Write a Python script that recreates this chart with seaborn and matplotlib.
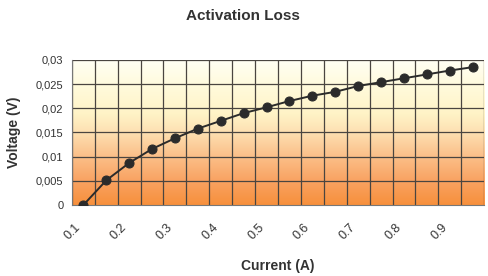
import matplotlib
matplotlib.use("Agg")
import matplotlib.pyplot as plt
import matplotlib.transforms as mtransforms
from matplotlib.colors import LinearSegmentedColormap
from matplotlib.ticker import FuncFormatter
import numpy as np
import pandas as pd
import seaborn as sns

current = [0.10, 0.15, 0.20, 0.25, 0.30, 0.35, 0.40, 0.45, 0.50,
           0.55, 0.60, 0.65, 0.70, 0.75, 0.80, 0.85, 0.90, 0.95]
voltage = [0.0, 0.0051, 0.0087, 0.0116, 0.0138, 0.0158, 0.0174, 0.0190, 0.0202,
           0.0215, 0.0226, 0.0234, 0.0246, 0.0254, 0.0262, 0.0270, 0.0278, 0.0285]
tick_labels = ["0.1", "0.2", "0.3", "0.4", "0.5", "0.6", "0.7", "0.8", "0.9"]

df = pd.DataFrame({"current": current, "voltage": voltage})

sns.set_style("white")
plt.rcParams["font.family"] = ["Liberation Sans", "DejaVu Sans"]

fig = plt.figure(figsize=(4.89, 2.76), dpi=100)
ax = fig.add_axes([0.147, 0.257, 0.843, 0.526])

xmin, xmax = 0.075, 0.975
ymin, ymax = 0.0, 0.03

# orange-to-cream gradient background
cmap = LinearSegmentedColormap.from_list(
    "bg",
    [(0.0, "#f7903c"), (0.17, "#f9a363"), (0.33, "#fbbf88"),
     (0.5, "#fde0b2"), (0.62, "#fff3c6"), (0.8, "#fffada"), (1.0, "#fffff4")],
)
grad = np.linspace(0, 1, 256).reshape(-1, 1)
ax.imshow(grad, aspect="auto", cmap=cmap, origin="lower",
          extent=[xmin, xmax, ymin, ymax], zorder=0)

sns.lineplot(data=df, x="current", y="voltage", ax=ax, color="#2b2b2b",
             linewidth=1.4, marker="o", markersize=6.5,
             markeredgecolor="#2b2b2b", markerfacecolor="#2b2b2b", zorder=3)

ax.set_xlim(xmin, xmax)
ax.set_ylim(ymin, ymax)

# gridlines at category boundaries
bounds = [xmin + 0.05 * k for k in range(19)]
ax.set_xticks(bounds, minor=True)
ax.set_xticks([float(t) for t in tick_labels])
ax.set_xticklabels(tick_labels, rotation=45, ha="right", va="top",
                   fontsize=9, color="#333333")
offset = mtransforms.ScaledTranslation(-6 / 100, 0, fig.dpi_scale_trans)
for lbl in ax.get_xticklabels():
    lbl.set_transform(lbl.get_transform() + offset)
ax.tick_params(axis="x", which="major", length=0, pad=12)
ax.tick_params(axis="x", which="minor", length=4, color="#555555", direction="out")

ax.set_yticks(np.arange(0, 0.0301, 0.005))
ax.yaxis.set_major_formatter(FuncFormatter(
    lambda v, p: "0" if abs(v) < 1e-9 else f"{v:g}".replace(".", ",")))
ax.tick_params(axis="y", length=4, color="#555555", direction="out",
               labelsize=8, labelcolor="#333333", pad=2)

ax.grid(False)
for b in bounds:
    ax.axvline(b, color="#4a4540", linewidth=0.9, zorder=1)
for v in np.arange(0.005, 0.0301, 0.005):
    ax.axhline(v, color="#4a4540", linewidth=0.9, zorder=1)

for s in ["top", "right"]:
    ax.spines[s].set_visible(False)
ax.spines["left"].set_color("#777777")
ax.spines["bottom"].set_color("#777777")

ax.set_xlabel("Current (A)", fontsize=10, fontweight="bold", color="#333333",
              labelpad=12)
ax.set_ylabel("Voltage (V)", fontsize=10, fontweight="bold", color="#333333",
              labelpad=11)
fig.text(0.496, 0.942, "Activation Loss", ha="center", va="center",
         fontsize=11, fontweight="bold", color="#333333")

fig.savefig("out.png", dpi=100)
